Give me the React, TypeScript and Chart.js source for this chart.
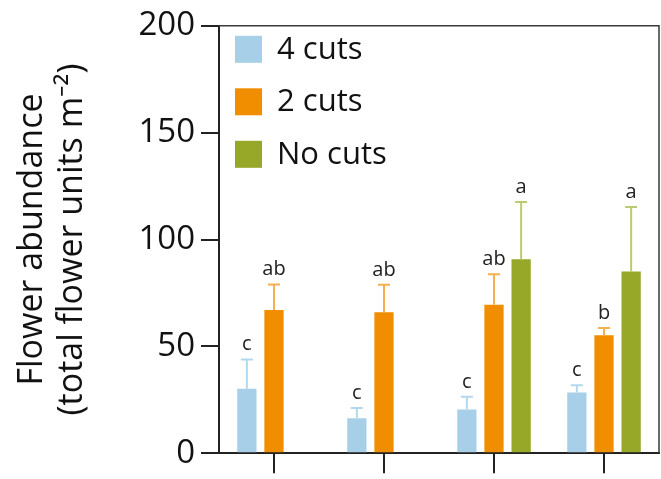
import React, { useEffect, useRef } from "react";
import { Chart, registerables } from "chart.js";

Chart.register(...registerables);

const categories = ["Site 1", "Site 2", "Site 3", "Site 4"];
const seriesLabels = ["4 cuts", "2 cuts", "No cuts"];

const fourCuts = [30.2, 16.3, 20.5, 28.4];
const fourCutsSE = [13.7, 4.9, 5.9, 3.4];
const fourCutsLetters = ["c", "c", "c", "c"];

const twoCuts = [67.0, 65.9, 69.5, 55.2];
const twoCutsSE = [12.0, 12.9, 14.2, 3.4];
const twoCutsLetters = ["ab", "ab", "ab", "b"];

const noCuts = [null, null, 90.7, 85.0];
const noCutsSE = [null, null, 26.8, 30.2];
const noCutsLetters = [null, null, "a", "a"];

const yTicks = [0, 50, 100, 150, 200];

const barColors = ["#a7d0e8", "#f18e00", "#97a829"];
const errColors = ["#b3d8ee", "#f6b04f", "#b9cc6e"];

const FONT = "'Open Sans', 'Noto Sans', sans-serif";

const errorPlugin = {
  id: "errorBars",
  afterDatasetsDraw(chart: any) {
    const ctx = chart.ctx;
    const yScale = chart.scales.y;
    chart.data.datasets.forEach((ds: any, di: number) => {
      const meta = chart.getDatasetMeta(di);
      meta.data.forEach((el: any, i: number) => {
        const v = ds.data[i];
        const se = ds.se[i];
        if (v == null || se == null) return;
        const topY = yScale.getPixelForValue(v + se);
        ctx.save();
        ctx.strokeStyle = ds.errColor;
        ctx.lineWidth = 2;
        ctx.beginPath();
        ctx.moveTo(el.x, el.y);
        ctx.lineTo(el.x, topY);
        ctx.moveTo(el.x - 6, topY);
        ctx.lineTo(el.x + 6, topY);
        ctx.stroke();
        const letter = ds.letters[i];
        if (letter) {
          ctx.fillStyle = "#222";
          ctx.font = `20px ${FONT}`;
          ctx.textAlign = "center";
          ctx.textBaseline = "alphabetic";
          ctx.fillText(letter, el.x, topY - 9);
        }
        ctx.restore();
      });
    });
  },
};

const framePlugin = {
  id: "frame",
  beforeDatasetsDraw(chart: any) {
    const { ctx, chartArea } = chart;
    ctx.save();
    ctx.strokeStyle = "#3a3a3a";
    ctx.lineWidth = 1.5;
    ctx.beginPath();
    ctx.moveTo(chartArea.left, chartArea.top);
    ctx.lineTo(chartArea.right, chartArea.top);
    ctx.lineTo(chartArea.right, chartArea.bottom);
    ctx.stroke();
    ctx.restore();
  },
};

const legendPlugin = {
  id: "boxLegend",
  afterDatasetsDraw(chart: any) {
    const { ctx, chartArea } = chart;
    ctx.save();
    chart.data.datasets.forEach((ds: any, i: number) => {
      const bx = chartArea.left + 16;
      const by = chartArea.top + 10 + i * 52.5;
      ctx.fillStyle = ds.backgroundColor;
      ctx.fillRect(bx, by, 27, 27);
      ctx.fillStyle = "#111";
      ctx.font = `31px ${FONT}`;
      ctx.textAlign = "left";
      ctx.textBaseline = "middle";
      ctx.fillText(ds.label, bx + 42, by + 14);
    });
    ctx.restore();
  },
};

export default function App() {
  const ref = useRef<HTMLCanvasElement>(null);
  useEffect(() => {
    if (!ref.current) return;
    const chart = new Chart(ref.current, {
      type: "bar",
      data: {
        labels: categories,
        datasets: [
          { label: seriesLabels[0], data: fourCuts, se: fourCutsSE, letters: fourCutsLetters, backgroundColor: barColors[0], errColor: errColors[0] } as any,
          { label: seriesLabels[1], data: twoCuts, se: twoCutsSE, letters: twoCutsLetters, backgroundColor: barColors[1], errColor: errColors[1] } as any,
          { label: seriesLabels[2], data: noCuts, se: noCutsSE, letters: noCutsLetters, backgroundColor: barColors[2], errColor: errColors[2] } as any,
        ],
      },
      options: {
        responsive: false,
        animation: false,
        datasets: { bar: { categoryPercentage: 0.74, barPercentage: 0.71 } },
        layout: { padding: { top: 25, right: 2, bottom: 4, left: 0 } },
        plugins: { legend: { display: false }, tooltip: { enabled: false } },
        scales: {
          x: {
            afterFit(scale: any) { scale.height = 20; },
            ticks: { display: false },
            grid: { drawOnChartArea: false, offset: false, tickLength: 20, lineWidth: 2, color: "#222" },
            border: { display: true, width: 2, color: "#222" },
          },
          y: {
            min: 0,
            max: 200,
            afterFit(scale: any) { scale.width = 219; },
            afterBuildTicks(scale: any) { scale.ticks = yTicks.map((v) => ({ value: v })); },
            ticks: { font: { family: FONT, size: 33 }, color: "#111", padding: 6 },
            grid: { drawOnChartArea: false, tickLength: 18, lineWidth: 2, color: "#222" },
            border: { display: true, width: 2, color: "#222" },
            title: {
              display: true,
              text: ["Flower abundance", "(total flower units m\u207B\u00B2)"],
              font: { family: FONT, size: 34, lineHeight: 1.18 },
              color: "#111",
              padding: { top: 12, bottom: 0 },
            },
          },
        },
      } as any,
      plugins: [framePlugin, errorPlugin, legendPlugin],
    });
    return () => chart.destroy();
  }, []);
  return (
    <div style={{ position: "absolute", left: 0, top: 0, width: 661, height: 479, background: "#fff" }}>
      <canvas ref={ref} width={661} height={479} />
    </div>
  );
}
